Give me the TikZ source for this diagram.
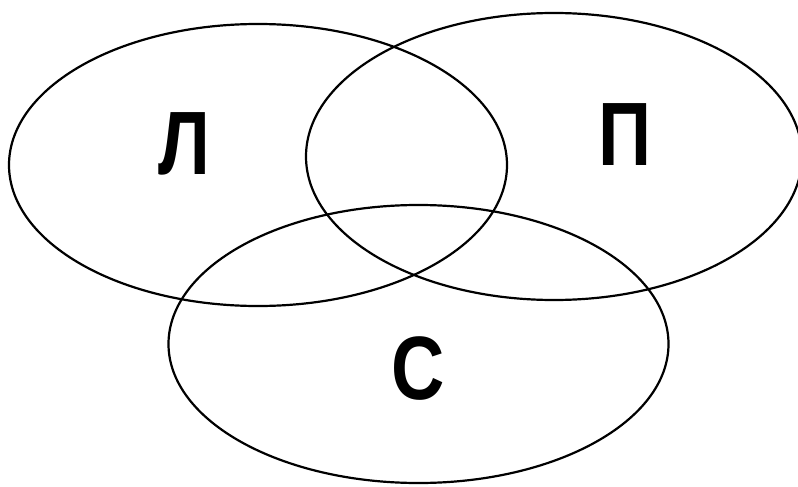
\documentclass[tikz,border=0pt]{standalone}
\usepackage{fontspec}
\newfontfamily\lettfont{Liberation Sans}
\begin{document}
\begin{tikzpicture}[x=1pt,y=-1pt,
  setline/.style={line width=2.2pt,black},
  letter/.style={anchor=base,inner sep=0pt,font=\lettfont\bfseries\fontsize{90}{90}\selectfont}]
\useasboundingbox (0,0) rectangle (798,487);
\clip (0,0) rectangle (798,487);
\coordinate (cL) at (258,165);
\coordinate (cP) at (554,156.5);
\coordinate (cS) at (418.5,344);
\draw[setline] (cL) ellipse [x radius=249, y radius=141];
\draw[setline] (cP) ellipse [x radius=248, y radius=143.5];
\draw[setline] (cS) ellipse [x radius=250, y radius=139];
\node[letter] (tL) at (184,174) {\scalebox{0.82}[1]{Л}};
\node[letter] (tP) at (625,165) {\scalebox{0.82}[1]{П}};
\node[letter] (tS) at (418,399) {\scalebox{0.82}[1]{С}};
\end{tikzpicture}
\end{document}
